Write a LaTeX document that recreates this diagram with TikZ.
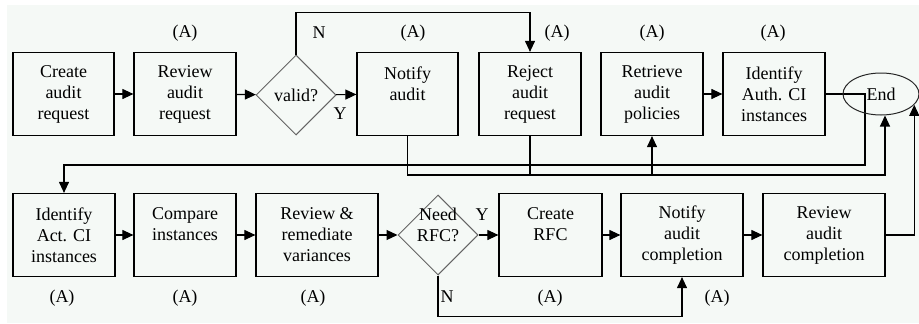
\documentclass[tikz,border=0pt]{standalone}
\usepackage{fontspec}
\setmainfont{Liberation Serif}
\usetikzlibrary{positioning,arrows.meta,shapes.geometric,calc}
\definecolor{paper}{RGB}{245,249,246}
\definecolor{rim}{RGB}{100,100,100}

\begin{document}
\begin{tikzpicture}[x=1pt,y=-1pt,
  font=\fontsize{18}{21}\selectfont,
  task/.style={draw,line width=1.2pt,align=center,minimum width=102pt,minimum height=83pt,inner sep=0pt},
  widetask/.style={task,minimum width=122pt},
  ask/.style={diamond,draw=rim,line width=1pt,minimum width=80pt,minimum height=80pt,inner sep=0pt},
  finish/.style={ellipse,draw=black!85,line width=1pt,minimum width=76pt,minimum height=42pt,inner sep=0pt},
  link/.style={line width=1.1pt},
  arr/.style={link,-{Triangle[length=11pt,width=10pt]}}]
  \useasboundingbox (0,0) rectangle (919,324);
  \fill[paper] (7,5) rectangle (919,323);
  % first row
  \node[task,minimum width=101pt] (cre) at (63.5,94) {Create\\audit\\request};
  \node[task] (rev) at (185,94) {Review\\audit\\request};
  \node[ask,label={[name=validT]center:valid?}] (valid) at (296,95) {};
  \node[task,minimum width=101pt] (notA) at (407.5,94) {Notify\\audit\\\mbox{}};
  \node[task] (rej) at (530,94) {Reject\\audit\\request};
  \node[task] (ret) at (652,94) {Retrieve\\audit\\policies};
  \node[task] (idAuth) at (774,94) {Identify\\Auth. CI\\instances};
  % second row
  \node[task] (idAct) at (64,235) {Identify\\Act. CI\\instances};
  \node[task] (cmp) at (185,235) {Compare\\instances\\\mbox{}};
  \node[widetask] (rem) at (317,235) {Review \&\\remediate\\variances};
  \node[ask,label={[name=rfcT,align=center]center:{Need\\RFC?\\\mbox{}}}] (rfc) at (438,235) {};
  \node[task,minimum width=103pt] (crf) at (550.5,235) {Create\\RFC\\\mbox{}};
  \node[widetask] (notC) at (682,235) {Notify\\audit\\completion};
  \node[widetask] (revC) at (824,235) {Review\\audit\\completion};
  % role marks
  \foreach \x/\y [count=\i] in {185/33,413/33,557/33,652/33,773/33,62/298,185/298,313/298,550/298,717/298}
    \node (a\i) at (\x,\y) {(A)};
  % decision marks
  \node (yTop) at (340,114) {Y};
  \node (nTop) at (319,33) {N};
  \node (yBot) at (482,215) {Y};
  \node (nBot) at (447,297) {N};
  % flow, first row
  \draw[arr] (cre) -- (rev);
  \draw[arr] (rev) -- (valid);
  \draw[arr] (valid) -- (notA);
  \draw[arr] (valid.north) -- ++(0,-42) -| (rej.north);
  \draw[arr] (ret) -- (idAuth);
  \coordinate (thru) at (865,94);
  \coordinate (lowR) at (885,175);
  \draw[arr] (idAuth.east) -- (thru) -- (thru |- 0,165) -| (idAct.north);
  \draw[link] (rej.south) -- (rej.south |- lowR);
  \draw[arr] (ret.south |- lowR) -- (ret.south);
  % flow, second row
  \draw[arr] (idAct) -- (cmp);
  \draw[arr] (cmp) -- (rem);
  \draw[arr] (rem) -- (rfc);
  \draw[arr] (rfc) -- (crf);
  \draw[arr] (crf) -- (notC);
  \draw[arr] (notC) -- (revC);
  \draw[arr] (rfc.south) -- ++(0,41) -| (notC.south);
  % end
  \node[finish] (end) at (881,94) {End};
  \draw[arr] (notA.south) |- (lowR) -- (end.south -| lowR);
  \draw[arr] (revC.east) -| (end.-18);
\end{tikzpicture}
\end{document}
